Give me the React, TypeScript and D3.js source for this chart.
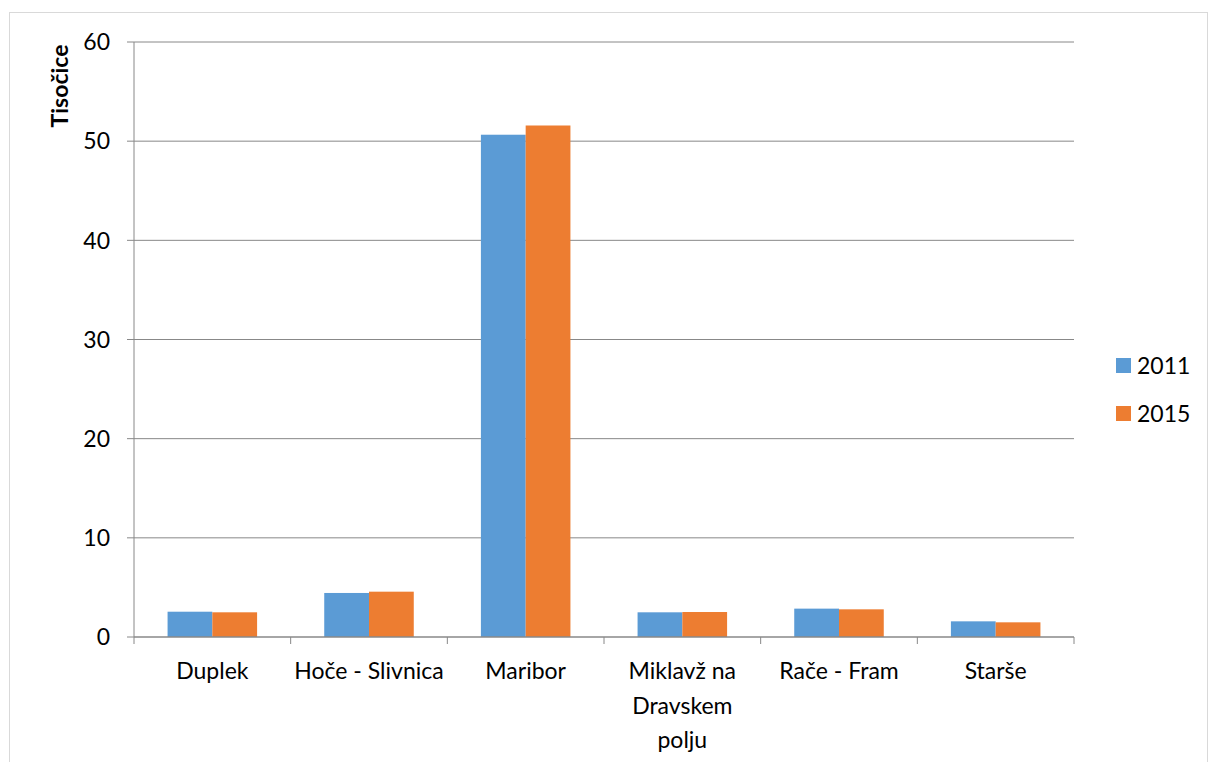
import React from "react";
import * as d3 from "d3";

const categories = ["Duplek", "Hoče - Slivnica", "Maribor", "Miklavž na Dravskem polju", "Rače - Fram", "Starše"];
const categoryLines = [["Duplek"], ["Hoče - Slivnica"], ["Maribor"], ["Miklavž na", "Dravskem", "polju"], ["Rače - Fram"], ["Starše"]];
const seriesNames = ["2011", "2015"];
const values2011 = [2.55, 4.44, 50.65, 2.49, 2.86, 1.58];
const values2015 = [2.49, 4.57, 51.58, 2.52, 2.79, 1.48];
const yTicks = [0, 10, 20, 30, 40, 50, 60];
const colors = ["#5B9BD5", "#ED7D31"];

export default function App() {
  const W = 1208, H = 762;
  const left = 134, right = 1074, top = 42, bottom = 637;
  const x = d3.scaleBand<string>().domain(categories).range([left, right]).paddingInner(0).paddingOuter(0);
  const y = d3.scaleLinear().domain([0, 60]).range([bottom, top]);
  const bw = x.bandwidth();
  const barW = bw / 3.5;
  const series = [values2011, values2015];
  const font = "Lato, 'Open Sans', sans-serif";
  const fs = 23;
  return (
    <svg width={W} height={H} style={{ position: "absolute", left: 0, top: 0 }} fontFamily={font}>
      <rect x={0} y={0} width={W} height={H} fill="#fff" />
      <rect x={9.5} y={12.5} width={W - 10} height={H} fill="none" stroke="#d9d9d9" />
      {yTicks.map((t) => (
        <g key={t}>
          {t > 0 && <line x1={left} x2={right} y1={y(t)} y2={y(t)} stroke="#888" strokeWidth={1} />}
          <line x1={left - 7} x2={left} y1={y(t)} y2={y(t)} stroke="#888" />
          <text x={110} y={y(t)} dy="0.36em" textAnchor="end" fontSize={fs} fill="#000">{t}</text>
        </g>
      ))}
      {series.map((vals, si) =>
        vals.map((v, i) => {
          const x0 = (x(categories[i]) as number) + bw * (0.75 / 3.5) + si * barW;
          return <rect key={si + "-" + i} x={x0} y={y(v)} width={barW} height={y(0) - y(v)} fill={colors[si]} />;
        })
      )}
      <line x1={left} x2={left} y1={top} y2={bottom} stroke="#888" />
      <line x1={left} x2={right} y1={bottom} y2={bottom} stroke="#888" strokeWidth={1.5} />
      {categories.map((c) => (
        <line key={c} x1={(x(c) as number)} x2={(x(c) as number)} y1={bottom} y2={bottom + 7} stroke="#888" />
      ))}
      <line x1={right} x2={right} y1={bottom} y2={bottom + 7} stroke="#888" />
      {categoryLines.map((lines, i) => (
        <text key={i} textAnchor="middle" fontSize={fs} fill="#000">
          {lines.map((l, j) => (
            <tspan key={j} x={(x(categories[i]) as number) + bw / 2} y={679 + j * 34.5}>{l}</tspan>
          ))}
        </text>
      ))}
      <text transform="translate(68,86) rotate(-90)" textAnchor="middle" fontSize={fs} fontWeight="bold" fill="#000">Tisočice</text>
      {seriesNames.map((s, i) => (
        <g key={s}>
          <rect x={1116} y={358 + i * 48} width={15} height={15} fill={colors[i]} />
          <text x={1137} y={374 + i * 48} fontSize={fs} fill="#000">{s}</text>
        </g>
      ))}
    </svg>
  );
}
